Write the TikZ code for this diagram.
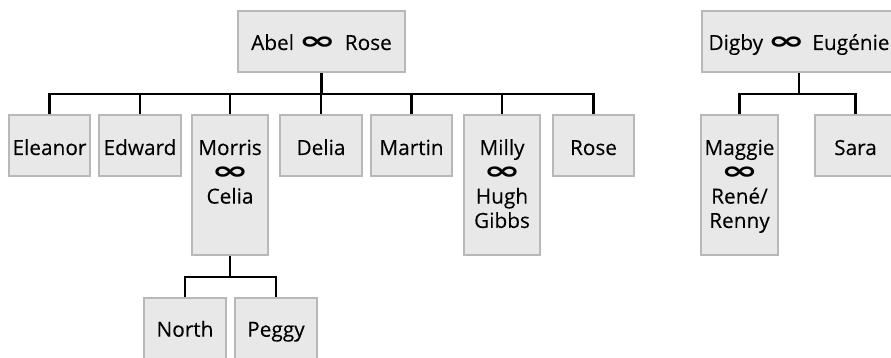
\documentclass[tikz,border=0pt]{standalone}
\usepackage{graphicx}
\usepackage{fontspec}
\setmainfont{Open Sans}
\newfontfamily\namefont{Open Sans}[FakeBold=0.12]
\newfontfamily\signfont{DejaVu Sans}
\usetikzlibrary{calc,backgrounds}

\definecolor{boxfill}{HTML}{E8E8E8}
\definecolor{boxline}{HTML}{B8B8B8}

% marriage sign
\newcommand\marr{{\signfont\bfseries\fontsize{20}{20}\selectfont\scalebox{2.25}[1.25]{∞}}}
% stacked lines, baseline on the first line
\newcommand\stack[1]{\begin{tabular}[t]{@{}c@{}}#1\end{tabular}}
% person box: name, left, top, width, height (outer edges, px)
\newcommand\persbox[5]{\node[person,minimum width={#4pt-2.4pt},minimum height={#5pt-2.4pt}] (#1) at ({#2+1.2},{#3+1.2}) {};}

\tikzset{
  person/.style={draw=boxline, fill=boxfill, line width=2.4pt, inner sep=0pt, outer sep=0pt, anchor=north west},
  pname/.style={font=\namefont\fontsize{20.8}{24.3}\selectfont, anchor=base, inner sep=0pt},
  link/.style={line width=2.6pt, black, line join=miter},
}

\begin{document}
\begin{tikzpicture}[x=1pt, y=-1pt]
\useasboundingbox (0,0) rectangle (891,358);
\clip (0,0) rectangle (891,358);

% parents
\persbox{abel}{237}{10}{169}{63}
\persbox{digby}{701}{10}{196}{63}

% children of Abel and Rose
\persbox{eleanor}{8}{114}{83}{63}
\persbox{edward}{98}{114}{84}{63}
\persbox{morris}{191}{114}{78}{142}
\persbox{delia}{279}{114}{84}{63}
\persbox{martin}{370}{114}{83}{63}
\persbox{milly}{463}{114}{78}{142}
\persbox{rosejr}{552}{114}{83}{63}

% children of Digby and Eugenie
\persbox{maggie}{700}{114}{79}{142}
\persbox{sara}{814}{114}{83}{63}

% children of Morris and Celia
\persbox{north}{143}{297}{84}{63}
\persbox{peggy}{234}{297}{84}{63}

% names
\node[pname] (abel-t) at ($(abel.north)+(0,38.8)$) {Abel\hspace{0.22em}\marr\hspace{0.42em}Rose};
\node[pname] (digby-t) at ($(digby.north)+(0,38.8)$) {Digby\hspace{0.22em}\marr\hspace{0.35em}Eugénie};
\node[pname] (eleanor-t) at ($(eleanor.north)+(0,39.8)$) {Eleanor};
\node[pname] (edward-t) at ($(edward.north)+(0,39.8)$) {Edward};
\node[pname] (morris-t) at ($(morris.north)+(0,39.8)$) {\stack{Morris\\\marr\\Celia}};
\node[pname] (delia-t) at ($(delia.north)+(0,39.8)$) {Delia};
\node[pname] (martin-t) at ($(martin.north)+(0,39.8)$) {Martin};
\node[pname] (milly-t) at ($(milly.north)+(0,39.8)$) {\stack{Milly\\\marr\\Hugh\\Gibbs}};
\node[pname] (rosejr-t) at ($(rosejr.north)+(0,39.8)$) {Rose};
\node[pname] (maggie-t) at ($(maggie.north)+(0,39.8)$) {\stack{Maggie\\\marr\\René/\\Renny}};
\node[pname] (sara-t) at ($(sara.north)+(0,39.8)$) {Sara};
\node[pname] (north-t) at ($(north.north)+(0,38.5)$) {North};
\node[pname] (peggy-t) at ($(peggy.north)+(0,38.5)$) {Peggy};

% bar heights of the sibling lines
\coordinate (abar) at (0,94);
\coordinate (dbar) at (0,94);
\coordinate (mbar) at (0,277);

\begin{scope}[on background layer]
  \fill[white] (0,0) rectangle (891,358);
  % Abel and Rose
  \draw[link] (abel.south) -- (abel.south |- abar);
  \draw[link] (eleanor.north) -- (eleanor.north |- abar) -- (rosejr.north |- abar) -- (rosejr.north);
  \foreach \c in {edward,morris,delia,martin,milly}
    \draw[link] (\c.north) -- (\c.north |- abar);
  % Digby and Eugenie
  \draw[link] (digby.south) -- (digby.south |- dbar);
  \draw[link] (maggie.north) -- (maggie.north |- dbar) -- (sara.north |- dbar) -- (sara.north);
  % Morris and Celia
  \draw[link] (morris.south) -- (morris.south |- mbar);
  \draw[link] (north.north) -- (north.north |- mbar) -- (peggy.north |- mbar) -- (peggy.north);
\end{scope}
\end{tikzpicture}
\end{document}
